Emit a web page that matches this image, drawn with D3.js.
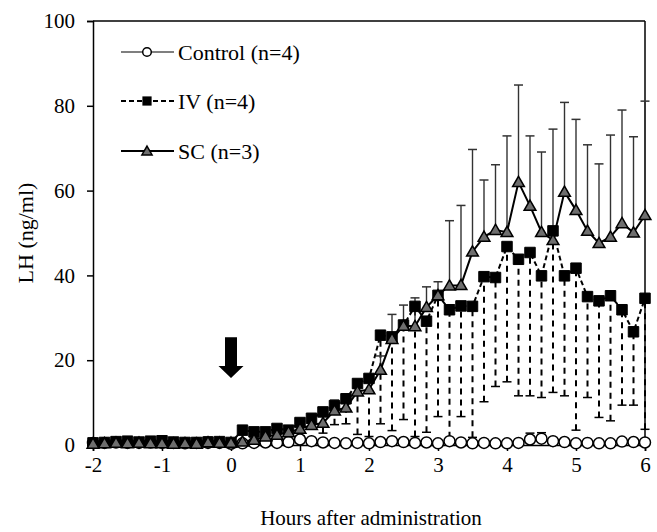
<!DOCTYPE html>
<html>
<head>
<meta charset="utf-8">
<script src="https://cdn.jsdelivr.net/npm/d3@7"></script>
<style>
  body{margin:0;background:#fff;overflow:hidden;}
  svg{display:block;}
  text{font-family:"Liberation Serif","Times New Roman",serif;fill:#000;}
  .axis path,.axis line{stroke:#000;stroke-width:1.5;}
</style>
</head>
<body>
<script>
// sampling times, minutes after administration
var minutes=[-120,-110,-100,-90,-80,-70,-60,-50,-40,-30,-20,-10,0,
  10,20,30,40,50,60,70,80,90,100,110,120,130,140,150,160,170,180,
  190,200,210,220,230,240,250,260,270,280,290,300,310,320,330,340,350,360];

var controlMean=[0.5,0.5,0.6,0.5,0.5,0.6,0.5,0.5,0.4,0.5,0.5,0.5,0.3,
  0.4,0.5,0.6,0.5,0.7,1.3,0.9,0.6,0.5,0.4,0.5,0.4,0.7,0.9,0.7,0.5,0.6,0.4,
  0.9,0.6,0.4,0.5,0.4,0.4,0.5,1.3,1.5,0.9,0.7,0.4,0.5,0.4,0.4,0.8,0.7,0.6];
var controlErr=[0.3,0.3,0.3,0.3,0.3,0.3,0.3,0.3,0.3,0.3,0.3,0.3,0.3,
  0.3,0.3,0.4,0.3,0.5,0.9,0.6,0.4,0.3,0.3,0.3,0.3,0.5,0.6,0.4,0.3,0.4,0.3,
  0.8,0.4,0.3,0.3,0.3,0.3,0.3,1.5,1.4,0.6,0.5,0.3,0.3,0.3,0.3,0.6,0.5,0.4];

var ivMean=[0.5,0.6,0.8,0.9,0.7,0.9,1.0,0.7,0.6,0.6,0.7,0.8,0.6,
  3.5,3.1,3.1,3.9,3.5,5.3,6.3,7.8,9.3,10.9,14.5,15.7,25.9,25.5,28.3,32.7,29.2,35.3,
  31.9,32.8,32.7,39.7,39.5,46.8,43.8,45.4,39.9,50.5,39.9,41.7,35.0,34.0,35.2,31.9,26.7,34.6];
// lower end of the (downward) IV error bars
var ivLow=[0.3,0.3,0.4,0.4,0.3,0.4,0.5,0.3,0.3,0.3,0.3,0.4,0.3,
  2.5,2.2,2.0,2.6,2.2,3.5,4.0,2.8,4.8,5.0,2.5,2.0,5.0,3.4,6.0,2.0,3.0,6.7,
  1.7,6.7,1.8,10.2,13.8,14.9,11.6,11.6,11.2,12.4,11.6,3.5,11.2,6.5,5.7,9.4,9.4,3.7];

var scMean=[0.3,0.4,0.5,0.4,0.5,0.4,0.4,0.3,0.4,0.3,0.6,0.5,0.5,
  0.8,1.2,2.0,2.4,3.0,3.8,4.7,5.2,8.1,8.8,12.6,13.1,17.7,25.0,28.1,28.0,32.5,35.3,
  37.6,37.7,45.6,49.1,50.7,50.2,62.0,56.4,50.2,48.3,59.7,55.4,50.5,47.6,49.1,52.3,50.1,54.2];
// upper end of the (upward) SC error bars
var scHigh=[0.6,0.7,0.8,0.7,0.8,0.7,0.7,0.6,0.7,0.6,1.9,0.8,0.8,
  1.2,1.8,2.8,3.2,3.8,4.6,5.8,6.8,10.6,10.0,14.5,16.5,21.0,30.8,33.0,34.7,37.3,38.5,
  52.9,56.5,69.7,62.5,66.1,72.9,84.9,72.9,69.1,74.5,80.8,76.8,70.8,66.3,73.1,79.0,72.7,81.1];

var xTicks=[-2,-1,0,1,2,3,4,5,6];
var yTicks=[0,20,40,60,80,100];
var legendLabels=["Control (n=4)","IV (n=4)","SC (n=3)"];
var arrowAt=[0,25.4,15.8]; // hour, top value, tip value

var W=657,H=532;
var svg=d3.select('body').append('svg').attr('width',W).attr('height',H);

var x=d3.scaleLinear().domain([-2,6]).range([93,645]);
var y=d3.scaleLinear().domain([0,100]).range([445,21]);

function rows(mean,lo,hi){
  return minutes.map(function(m,i){return {t:m/60,v:mean[i],lo:lo[i],hi:hi[i]};});
}
var ctrl=rows(controlMean,controlMean.map(function(v,i){return v-controlErr[i];}),controlMean.map(function(v,i){return v+controlErr[i];}));
var iv=rows(ivMean,ivLow,ivMean);
var sc=rows(scMean,scMean,scHigh);

// frame
svg.append('line').attr('x1',x(-2)).attr('x2',x(6)).attr('y1',y(100)).attr('y2',y(100)).attr('stroke','#000').attr('stroke-width',1.5);
svg.append('line').attr('x1',x(6)).attr('x2',x(6)).attr('y1',y(100)).attr('y2',y(0)).attr('stroke','#000').attr('stroke-width',1.5);

var serif='"Liberation Serif","Times New Roman",serif';
svg.append('g').attr('class','axis').attr('transform','translate(0,'+y(0)+')')
  .call(d3.axisBottom(x).tickValues(xTicks).tickSize(6).tickPadding(6).tickFormat(function(d){return String(d);}))
  .attr('font-family',serif).attr('font-size',21);
svg.append('g').attr('class','axis').attr('transform','translate('+x(-2)+',0)')
  .call(d3.axisLeft(y).tickValues(yTicks).tickSize(6).tickPadding(12))
  .attr('font-family',serif).attr('font-size',21);

var line=d3.line().x(function(d){return x(d.t);}).y(function(d){return y(d.v);});

function errorBars(data,cls,style){
  var g=svg.append('g').attr('class',cls);
  g.selectAll('line.v').data(data).enter().append('line').attr('class','v')
    .attr('x1',function(d){return x(d.t);}).attr('x2',function(d){return x(d.t);})
    .attr('y1',function(d){return y(d.lo);}).attr('y2',function(d){return y(d.hi);})
    .attr('stroke',style.color).attr('stroke-width',style.width).attr('stroke-dasharray',style.dash);
  g.selectAll('line.c').data(data).enter().append('line').attr('class','c')
    .attr('x1',function(d){return x(d.t)-4.5;}).attr('x2',function(d){return x(d.t)+4.5;})
    .attr('y1',function(d){return y(style.capAt(d));}).attr('y2',function(d){return y(style.capAt(d));})
    .attr('stroke',style.color).attr('stroke-width',1.5);
}

// control
errorBars(ctrl,'ctrlErr',{color:'#000',width:1,dash:null,capAt:function(d){return d.hi;}});
svg.append('path').datum(ctrl).attr('d',line).attr('fill','none').attr('stroke','#000').attr('stroke-width',1);

// IV
errorBars(iv,'ivErr',{color:'#000',width:2,dash:'6,5',capAt:function(d){return d.lo;}});
svg.append('path').datum(iv).attr('d',line).attr('fill','none').attr('stroke','#000').attr('stroke-width',2).attr('stroke-dasharray','5,3');

// SC
errorBars(sc,'scErr',{color:'#333',width:1.4,dash:null,capAt:function(d){return d.hi;}});
svg.append('path').datum(sc).attr('d',line).attr('fill','none').attr('stroke','#000').attr('stroke-width',2);

var sq=d3.symbol().type(d3.symbolSquare).size(110);
var tri=d3.symbol().type(d3.symbolTriangle).size(60);

svg.append('g').selectAll('circle').data(ctrl).enter().append('circle')
  .attr('cx',function(d){return x(d.t);}).attr('cy',function(d){return y(d.v);}).attr('r',5.5)
  .attr('fill','#fff').attr('stroke','#000').attr('stroke-width',1.5);
svg.append('g').selectAll('path').data(iv).enter().append('path')
  .attr('d',sq).attr('transform',function(d){return 'translate('+x(d.t)+','+y(d.v)+')';})
  .attr('fill','#000').attr('stroke','#000').attr('stroke-width',1);
svg.append('g').selectAll('path').data(sc).enter().append('path')
  .attr('d',tri).attr('transform',function(d){return 'translate('+x(d.t)+','+(y(d.v)+1)+')';})
  .attr('fill','#6e6e6e').attr('stroke','#000').attr('stroke-width',1.5);

// arrow at administration
var ax=x(arrowAt[0]),aTop=y(arrowAt[1]),aTip=y(arrowAt[2]),aNeck=aTip-12;
svg.append('path').attr('d','M'+(ax-6)+','+aTop+'L'+(ax+6)+','+aTop+'L'+(ax+6)+','+aNeck+'L'+(ax+12.5)+','+aNeck+
  'L'+ax+','+aTip+'L'+(ax-12.5)+','+aNeck+'L'+(ax-6)+','+aNeck+'Z').attr('fill','#000');

// legend
var lg=svg.append('g');
var ly=[52,101,151];
lg.selectAll('line').data(legendLabels).enter().append('line')
  .attr('x1',121).attr('x2',174).attr('y1',function(d,i){return ly[i];}).attr('y2',function(d,i){return ly[i];})
  .attr('stroke','#000').attr('stroke-width',function(d,i){return i==0?1.2:2;})
  .attr('stroke-dasharray',function(d,i){return i==1?'5,3':null;});
lg.append('circle').attr('cx',147).attr('cy',ly[0]).attr('r',4.3).attr('fill','#fff').attr('stroke','#000').attr('stroke-width',1.5);
lg.append('path').attr('d',d3.symbol().type(d3.symbolSquare).size(85)).attr('transform','translate(147,'+ly[1]+')').attr('fill','#000');
lg.append('path').attr('d',d3.symbol().type(d3.symbolTriangle).size(45)).attr('transform','translate(147,'+(ly[2]+1)+')')
  .attr('fill','#6e6e6e').attr('stroke','#000').attr('stroke-width',1.5);
lg.selectAll('text').data(legendLabels).enter().append('text')
  .attr('x',178).attr('y',function(d,i){return ly[i];}).attr('dy','0.35em')
  .style('font-size','22px').text(function(d){return d;});

svg.append('text').attr('x',371).attr('y',525).attr('text-anchor','middle').style('font-size','21px')
  .text('Hours after administration');
svg.append('text').attr('transform','translate(25,233) rotate(-90)').attr('dy','0.35em').attr('text-anchor','middle').style('font-size','22px')
  .text('LH (ng/ml)');
</script>
</body>
</html>
